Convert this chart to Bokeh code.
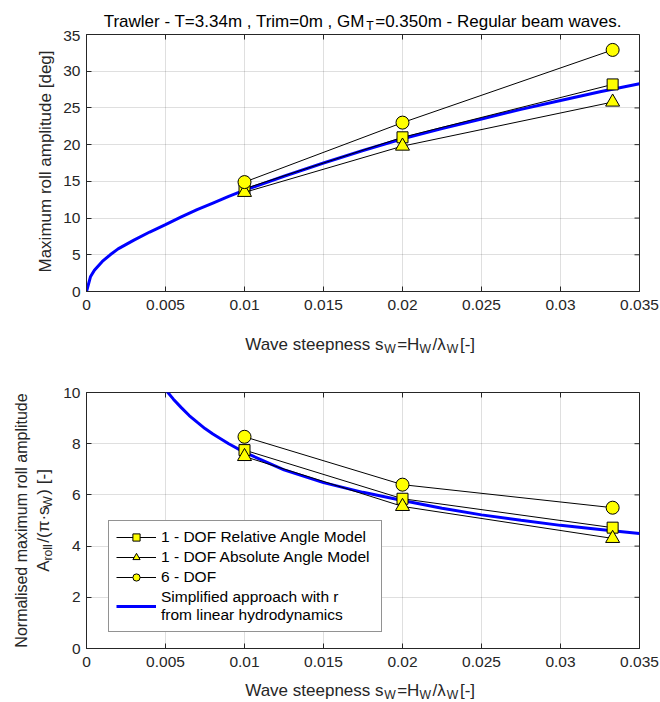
import math
from bokeh.plotting import figure
from bokeh.models import Range1d, FixedTicker, Legend, LegendItem
from bokeh.layouts import column, row
from bokeh.core.properties import value
from bokeh.embed import file_html
from bokeh.resources import INLINE

# ---------------- data ----------------
steep = [0.01, 0.02, 0.0333]
roll_rel = [14.0, 21.0, 28.2]
roll_abs = [13.5, 19.8, 25.8]
roll_6dof = [14.9, 23.0, 32.9]

simp_s = [0.0, 0.00025, 0.0005, 0.001, 0.0015, 0.002, 0.003, 0.004, 0.005, 0.006,
          0.007, 0.008, 0.009, 0.01, 0.0125, 0.015, 0.0175, 0.02, 0.0225, 0.025,
          0.0275, 0.03, 0.0325, 0.035]
simp_roll = [0.0, 2.0, 2.9, 4.1, 5.0, 5.8, 7.0, 8.1, 9.1, 10.15,
             11.15, 12.05, 12.95, 13.8, 15.7, 17.5, 19.2, 20.8, 22.2, 23.5,
             24.8, 26.0, 27.2, 28.3]

norm_rel = [7.75, 5.85, 4.72]
norm_abs = [7.5, 5.55, 4.3]
norm_6dof = [8.27, 6.4, 5.5]

simp_norm_s = [0.0045, 0.005, 0.0055, 0.006, 0.0065, 0.007, 0.0075, 0.008, 0.009,
               0.01, 0.0125, 0.015, 0.0175, 0.02, 0.0225, 0.025, 0.0275, 0.03,
               0.0325, 0.035]
simp_norm = [10.54, 10.11, 9.74, 9.41, 9.10, 8.84, 8.59, 8.38, 8.0,
             7.66, 6.98, 6.48, 6.10, 5.78, 5.48, 5.22, 5.01, 4.81,
             4.65, 4.49]

x_ticks = [0, 0.005, 0.01, 0.015, 0.02, 0.025, 0.03, 0.035]
x_tick_labels = ["0", "0.005", "0.01", "0.015", "0.02", "0.025", "0.03", "0.035"]
y1_ticks = [0, 5, 10, 15, 20, 25, 30, 35]
y2_ticks = [0, 2, 4, 6, 8, 10]

legend_labels = ["1 - DOF Relative Angle Model", "1 - DOF Absolute Angle Model",
                 "6 - DOF", "Simplified approach with r\nfrom linear hydrodynamics"]

# ---------------- style / layout ----------------
FONT = "Liberation Sans"
AX = "#262626"
TOTAL_W = 660
YL_W = 60                 # width of the y-label strip
PW = TOTAL_W - YL_W       # plot figure width
FRAME_L = 85 - YL_W       # frame left inside plot figure
FRAME_R = 639 - YL_W
TICK_FS = "15.5px"
LAB_FS = 17
TITLE_FS = 17
LEG_FS = "15.5px"

ADV = {' ': 278, 'a': 556, 'b': 556, 'c': 500, 'd': 556, 'e': 556, 'f': 278, 'g': 556,
       'h': 556, 'i': 222, 'j': 222, 'k': 500, 'l': 222, 'm': 833, 'n': 556, 'o': 556,
       'p': 556, 'q': 556, 'r': 333, 's': 500, 't': 278, 'u': 556, 'v': 500, 'w': 722,
       'x': 500, 'y': 500, 'z': 500, 'A': 667, 'B': 667, 'C': 722, 'D': 722, 'E': 667,
       'F': 611, 'G': 778, 'H': 722, 'I': 278, 'J': 500, 'K': 667, 'L': 556, 'M': 833,
       'N': 722, 'O': 778, 'P': 667, 'Q': 778, 'R': 722, 'S': 667, 'T': 611, 'U': 722,
       'V': 667, 'W': 944, 'X': 667, 'Y': 667, 'Z': 611, '.': 278, ',': 278, '-': 333,
       '=': 584, '/': 278, '[': 278, ']': 278, '(': 333, ')': 333, '\u00b7': 340,
       '\u03c0': 610, '\u03bb': 570}


def text_w(s, size):
    return sum(ADV.get(ch, 556) for ch in s) / 1000.0 * size


def text_fig(w, h, top=0, bottom=0):
    """Text-only figure; data units = pixels, y measured upward from the canvas bottom.
    top/bottom borders match the neighbouring plot so that aligned frames stay consistent."""
    f = figure(width=w, height=h, output_backend="svg", toolbar_location=None, title=None,
               x_range=Range1d(0, w), y_range=Range1d(bottom, h - top),
               min_border_left=0, min_border_right=0, min_border_top=top, min_border_bottom=bottom,
               x_axis_location=None, y_axis_location=None)
    f.xgrid.visible = False
    f.ygrid.visible = False
    f.outline_line_color = None
    f.background_fill_color = "white"
    f.border_fill_color = "white"
    return f


def put(f, x, y, t, size, color=AX, align="left", baseline="alphabetic", angle=0.0):
    f.text(x=[x], y=[f.height - y], text=[t], text_font=value(FONT),
           text_font_size=value(f"{size:.1f}px"), text_color=color, text_align=align,
           text_baseline=baseline, angle=angle)


def rich(f, parts, cx, cy, size, vertical=False, color=AX, sub_scale=0.72, sub_drop=0.26, gap=1.5):
    """parts: (text, is_subscript). Local canvas coords (y down).
    horizontal: cx centre, cy baseline; vertical: cx baseline, cy centre."""
    sizes = [size * sub_scale if sb else size for _, sb in parts]
    widths = [text_w(t, s) + (gap if sb else 0) for (t, sb), s in zip(parts, sizes)]
    total = sum(widths)
    if not vertical:
        x = cx - total / 2
        for (t, sb), s, w in zip(parts, sizes, widths):
            put(f, x, cy + (sub_drop * size if sb else 0), t, s, color=color)
            x += w
    else:
        y = cy + total / 2
        for (t, sb), s, w in zip(parts, sizes, widths):
            put(f, cx + (sub_drop * size if sb else 0), y, t, s, color=color, angle=math.pi / 2)
            y -= w


def make_fig(height, ftop, fbottom, yr, yticks):
    p = figure(width=PW, height=height, output_backend="svg", toolbar_location=None, title=None,
               x_range=Range1d(0, x_ticks[-1]), y_range=Range1d(yr[0], yr[1]),
               min_border_left=FRAME_L, min_border_right=PW - FRAME_R,
               min_border_top=ftop, min_border_bottom=height - fbottom)
    p.outline_line_color = AX
    p.outline_line_width = 1
    p.background_fill_color = "white"
    p.border_fill_color = "white"
    xt = FixedTicker(ticks=x_ticks)
    yt = FixedTicker(ticks=yticks)
    for ax in p.xaxis:
        ax.ticker = xt
        ax.major_label_overrides = {t: lab for t, lab in zip(x_ticks, x_tick_labels)}
        ax.major_label_standoff = 8
    for ax in p.yaxis:
        ax.ticker = yt
        ax.major_label_standoff = 6
    for ax in list(p.xaxis) + list(p.yaxis):
        ax.axis_line_color = AX
        ax.major_tick_line_color = AX
        ax.major_tick_in = 5
        ax.major_tick_out = 0
        ax.minor_tick_line_color = None
        ax.major_label_text_font = FONT
        ax.major_label_text_font_size = TICK_FS
        ax.major_label_text_color = AX
    p.xgrid.ticker = xt
    p.ygrid.ticker = yt
    for g in (p.xgrid, p.ygrid):
        g.grid_line_color = AX
        g.grid_line_alpha = 0.15
        g.grid_line_width = 1
    # inward ticks on the top and right edges of the box
    p.ray(x=x_ticks, y=[yr[1]] * len(x_ticks), length=5, length_units="screen",
          angle=-math.pi / 2, line_color=AX, line_width=1)
    p.ray(x=[x_ticks[-1]] * len(yticks), y=yticks, length=5, length_units="screen",
          angle=math.pi, line_color=AX, line_width=1)
    return p


def series(p, ys_rel, ys_abs, ys_6, bs, by):
    blue = p.line(bs, by, line_color="#0000ff", line_width=3)
    r = []
    for ys, marker, size in ((ys_rel, "square", 11), (ys_abs, "triangle", 14), (ys_6, "circle", 13)):
        ln = p.line(steep, ys, line_color="black", line_width=1)
        sc = p.scatter(steep, ys, marker=marker, size=size, fill_color="#ffff00",
                       line_color="black", line_width=1)
        r.append([ln, sc])
    return r, blue


CX = 362  # horizontal centre of the frames (absolute)
xlab_parts = [("Wave steepness s", False), ("W", True), ("=H", False), ("W", True),
              ("/\u03bb", False), ("W", True), (" [-]", False)]

# ---- title strip (y 0..30)
T_H = 30
title_f = text_fig(TOTAL_W, T_H)
rich(title_f, [("Trawler - T=3.34m , Trim=0m , GM", False), ("T", True),
               ("=0.350m - Regular beam waves.", False)], CX, 21, TITLE_FS, color="black")

# ---- top plot row (y 30..324)
H1 = 324 - T_H
P1_TOP, P1_BOT = 34 - T_H, 291 - T_H
p1 = make_fig(H1, P1_TOP, P1_BOT, (0, y1_ticks[-1]), y1_ticks)
series(p1, roll_rel, roll_abs, roll_6dof, simp_s, simp_roll)
yl1 = text_fig(YL_W, H1, top=P1_TOP, bottom=H1 - P1_BOT)
put(yl1, 45, 161 - T_H, "Maximum roll amplitude [deg]", LAB_FS, align="center",
    baseline="middle", angle=math.pi / 2)

# ---- top x-label strip (y 324..360)
xl1 = text_fig(TOTAL_W, 36)
rich(xl1, xlab_parts, CX, 344 - 324, LAB_FS)

# ---- bottom plot row (y 360..674)
H2 = 314
P2_TOP, P2_BOT = 392 - 360, 648 - 360
p2 = make_fig(H2, P2_TOP, P2_BOT, (0, y2_ticks[-1]), y2_ticks)
items, blue2 = series(p2, norm_rel, norm_abs, norm_6dof, simp_norm_s, simp_norm)
leg_items = [LegendItem(label=legend_labels[i], renderers=items[i]) for i in range(3)]
leg_items.append(LegendItem(label=legend_labels[3], renderers=[blue2]))
legend = Legend(items=leg_items, location=(22, 16), border_line_color=AX, border_line_width=1,
                background_fill_color="white", background_fill_alpha=1,
                label_text_font=FONT, label_text_font_size=LEG_FS, label_text_color="black",
                glyph_width=40, glyph_height=18, label_height=18, spacing=2, padding=7,
                label_standoff=5, margin=0, label_width=213)
p2.add_layout(legend)

yl2 = text_fig(YL_W, H2, top=P2_TOP, bottom=H2 - P2_BOT)
put(yl2, 21, 520 - 360, "Normalised maximum roll amplitude", 16, align="center",
    baseline="alphabetic", angle=math.pi / 2)
rich(yl2, [("A", False), ("roll", True), ("/(\u03c0\u00b7s", False), ("W", True), (") [-]", False)],
     43, 520 - 360, LAB_FS, vertical=True)

# ---- bottom x-label strip (y 674..702)
xl2 = text_fig(TOTAL_W, 702 - 674)
rich(xl2, xlab_parts, CX, 690 - 674, LAB_FS)

layout = column(title_f, row(yl1, p1, spacing=0), xl1, row(yl2, p2, spacing=0), xl2, spacing=0)
open("out.html", "w").write(file_html(layout, INLINE))
